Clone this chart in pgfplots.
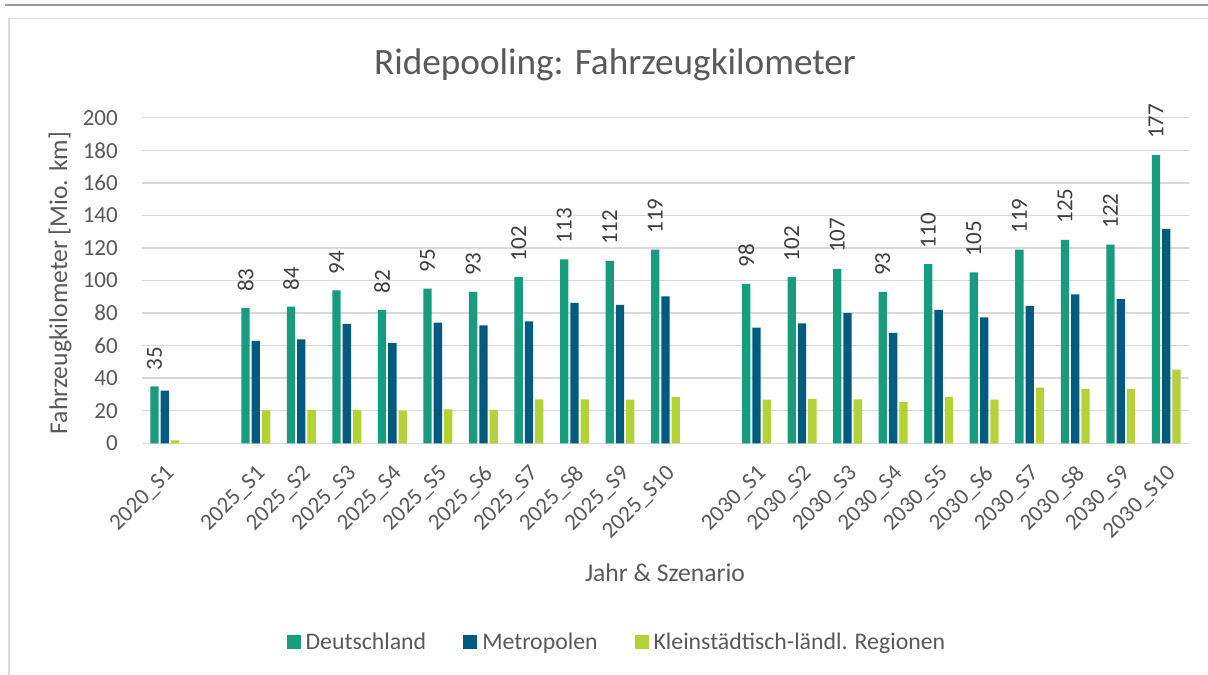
\documentclass[border=0pt]{standalone}
\usepackage{pgfplots}
\pgfplotsset{compat=1.18}
\usepackage{fontspec}
\setmainfont{Carlito}
\definecolor{cD}{HTML}{179C7D}
\definecolor{cM}{HTML}{005B7F}
\definecolor{cK}{HTML}{B2D235}
\definecolor{txt}{HTML}{595959}
\definecolor{lbl}{HTML}{404040}
\definecolor{gridc}{HTML}{D9D9D9}
\definecolor{framec}{HTML}{DCDCDC}
\definecolor{topc}{HTML}{9A9A9A}
\newcommand\fsA{\fontsize{23bp}{28bp}\selectfont}
\newcommand\fsL{\fontsize{23.8bp}{28bp}\selectfont}
\newcommand\fsB{\fontsize{25.6bp}{30bp}\selectfont}
\newcommand\fsT{\fontsize{37.2bp}{43bp}\selectfont}
\begin{document}
\begin{tikzpicture}
\useasboundingbox (0,0) rectangle (1208bp,675bp);
\fill[white] (0,0) rectangle (1208bp,675bp);
\draw[color=framec, line width=1.5bp] (9bp,0) -- (9bp,656.5bp) -- (1208bp,656.5bp);
\draw[color=topc, line width=1.8bp] (5bp,670bp) -- (1208bp,670bp);
\begin{axis}[
  at={(142bp,231.7bp)}, anchor=south west,
  scale only axis, width=1047bp, height=325.6bp,
  xmin=-0.5, xmax=22.5, ymin=0, ymax=200,
  enlarge x limits=false,
  ybar=2bp, bar width=8.3bp,
  ytick={0,20,...,200},
  xtick={0,2,3,4,5,6,7,8,9,10,11,13,14,15,16,17,18,19,20,21,22},
  xticklabels={2020\_S1,2025\_S1,2025\_S2,2025\_S3,2025\_S4,2025\_S5,2025\_S6,2025\_S7,2025\_S8,2025\_S9,2025\_S10,2030\_S1,2030\_S2,2030\_S3,2030\_S4,2030\_S5,2030\_S6,2030\_S7,2030\_S8,2030\_S9,2030\_S10},
  /pgf/number format/assume math mode=true,
  /pgf/number format/fixed,
  /pgf/number format/precision=0,
  ymajorgrids, grid style={color=gridc, line width=1.5bp},
  axis line style={draw=none},
  major tick length=0pt,
  tick style={draw=none},
  yticklabel style={font=\fsA, text=txt, anchor=east, inner sep=0pt, xshift=-24bp},
  xticklabel style={font=\fsA, text=txt, xshift=6bp, rotate=45, anchor=east, inner sep=0pt},
  xticklabel shift=27bp,
  title={Ridepooling: Fahrzeugkilometer},
  title style={font=\fsT, text=txt, at={(0.4518,1.143)}, anchor=center},
  xlabel={Jahr \& Szenario},
  xlabel style={font=\fsB, text=txt, at={(0.4995,-0.398)}, anchor=center},
  ylabel={Fahrzeugkilometer [Mio. km]},
  ylabel style={font=\fsB, text=txt, at={(-0.0783,0.492)}, anchor=center, rotate=0},
  legend columns=3,
  legend style={at={(0.455,-0.61)}, anchor=center, draw=none, fill=none,
    font=\fsL, text=txt, inner sep=0pt,
    /tikz/every even column/.append style={column sep=32bp},
    nodes={inner xsep=5bp, inner ysep=3bp}},
  legend image code/.code={\fill[#1] (0bp,-7bp) rectangle (14bp,7bp);},
  every axis plot/.append style={draw=none},
]
\addplot+[fill=cD, draw=none, nodes near coords,
  every node near coord/.append style={rotate=90, anchor=west, font=\fsA, text=lbl, inner xsep=16bp, inner ysep=0pt}]
  coordinates {(0,35) (2,83) (3,84) (4,94) (5,82) (6,95) (7,93) (8,102) (9,113) (10,112) (11,119)
  (13,98) (14,102) (15,107) (16,93) (17,110) (18,105) (19,119) (20,125) (21,122) (22,177)};
\addplot+[fill=cM, draw=none]
  coordinates {(0,32.3) (2,62.9) (3,63.9) (4,73.3) (5,61.6) (6,74.1) (7,72.5) (8,74.9) (9,86.2) (10,85.0) (11,90.3)
  (13,71.0) (14,73.7) (15,79.9) (16,67.8) (17,81.9) (18,77.4) (19,84.4) (20,91.5) (21,88.5) (22,131.7)};
\addplot+[fill=cK, draw=none]
  coordinates {(0,1.8) (2,20.3) (3,20.5) (4,20.5) (5,19.9) (6,20.9) (7,20.5) (8,27.0) (9,27.0) (10,26.8) (11,28.5)
  (13,26.8) (14,27.2) (15,27.0) (16,25.4) (17,28.3) (18,26.8) (19,34.2) (20,33.4) (21,33.2) (22,45.3)};
\legend{Deutschland,Metropolen,Kleinstädtisch-ländl. Regionen}
\end{axis}
\end{tikzpicture}
\end{document}
